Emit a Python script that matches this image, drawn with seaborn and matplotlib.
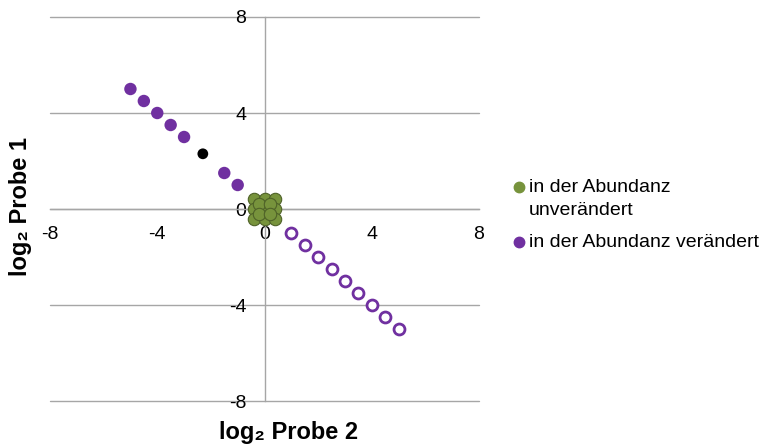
import matplotlib
matplotlib.use("Agg")
import matplotlib.pyplot as plt
from matplotlib.lines import Line2D
import seaborn as sns
import pandas as pd

sns.set_theme(style="white")
plt.rcParams["font.family"] = ["Liberation Sans", "DejaVu Sans"]

# Proteins with unchanged abundance (cluster around the origin)
unchanged_x = [-0.4, 0.0, 0.4, -0.4, 0.0, 0.4, -0.4, 0.0, 0.4, -0.2, 0.2, -0.2, 0.2]
unchanged_y = [0.4, 0.4, 0.4, 0.0, 0.0, 0.0, -0.4, -0.4, -0.4, 0.2, 0.2, -0.2, -0.2]

# Proteins with changed abundance, higher in sample 1
up_x = [-5.0, -4.5, -4.0, -3.5, -3.0, -1.5, -1.0]
up_y = [5.0, 4.5, 4.0, 3.5, 3.0, 1.5, 1.0]

# Highlighted single protein
marked_x = [-2.3]
marked_y = [2.3]

# Proteins with changed abundance, higher in sample 2
down_x = [1.0, 1.5, 2.0, 2.5, 3.0, 3.5, 4.0, 4.5, 5.0]
down_y = [-1.0, -1.5, -2.0, -2.5, -3.0, -3.5, -4.0, -4.5, -5.0]

ticks = [-8, -4, 0, 4, 8]
tick_labels = ["-8", "-4", "0", "4", "8"]
legend_labels = ["in der Abundanz\nunverändert", "in der Abundanz verändert"]

purple = "#7030A0"
green = "#77933C"
green_edge = "#4F6228"
grey = "#A6A6A6"

fig = plt.figure(figsize=(7.64, 4.48), dpi=100)
ax = fig.add_axes([50 / 764, 1 - 401 / 448, 429 / 764, 384 / 448])

df_un = pd.DataFrame({"x": unchanged_x, "y": unchanged_y})
df_up = pd.DataFrame({"x": up_x, "y": up_y})
df_mk = pd.DataFrame({"x": marked_x, "y": marked_y})
df_dn = pd.DataFrame({"x": down_x, "y": down_y})

sns.scatterplot(data=df_up, x="x", y="y", ax=ax, color=purple, s=80,
                edgecolor="none", zorder=3, legend=False)
sns.scatterplot(data=df_mk, x="x", y="y", ax=ax, color="black", s=60,
                edgecolor="none", zorder=3, legend=False)
sns.scatterplot(data=df_dn, x="x", y="y", ax=ax, facecolor="white", s=62,
                edgecolor=purple, linewidth=2.0, zorder=3, legend=False)
sns.scatterplot(data=df_un, x="x", y="y", ax=ax, color=green, s=80,
                edgecolor=green_edge, linewidth=0.8, zorder=3, legend=False)

ax.set_xlim(-8, 8)
ax.set_ylim(-8, 8)
ax.set_xticks(ticks)
ax.set_xticklabels(tick_labels)
ax.set_yticks(ticks)
ax.set_yticklabels(tick_labels)

for side in ["top", "right"]:
    ax.spines[side].set_visible(False)
ax.spines["left"].set_position(("data", 0))
ax.spines["bottom"].set_position(("data", 0))
for side in ["left", "bottom"]:
    ax.spines[side].set_color(grey)
    ax.spines[side].set_linewidth(1.0)
    ax.spines[side].set_zorder(1)

ax.yaxis.grid(True, color=grey, linewidth=1.0)
ax.xaxis.grid(False)
for gl in ax.yaxis.get_gridlines():
    gl.set_clip_on(False)
ax.set_axisbelow(True)
ax.tick_params(axis="both", which="major", direction="out", length=4,
               width=1.0, color=grey, labelsize=14, labelcolor="black")
ax.tick_params(axis="x", pad=8)
ax.tick_params(axis="y", pad=9)
ax.set_xlabel("")
ax.set_ylabel("")

fig.text(289 / 764, 1 - 432 / 448, "log₂ Probe 2", ha="center", va="center",
         fontsize=17, fontweight="bold", color="black")
fig.text(21 / 764, 1 - 206 / 448, "log₂ Probe 1", ha="center", va="center",
         rotation=90, fontsize=17, fontweight="bold", color="black")

# Legend to the right of the plot: marker beside the first line of each entry
legend_colors = [green, purple]
marker_y = [187, 242]
text_y = [199, 242]
for label, col, my, ty in zip(legend_labels, legend_colors, marker_y, text_y):
    fig.add_artist(Line2D([519 / 764], [1 - my / 448], marker="o", linestyle="none",
                          markersize=7.5, markerfacecolor=col, markeredgecolor=col,
                          transform=fig.transFigure))
    fig.text(529 / 764, 1 - ty / 448, label, ha="left", va="center",
             fontsize=14, color="black", linespacing=1.45)

fig.savefig("out.png", dpi=100)
